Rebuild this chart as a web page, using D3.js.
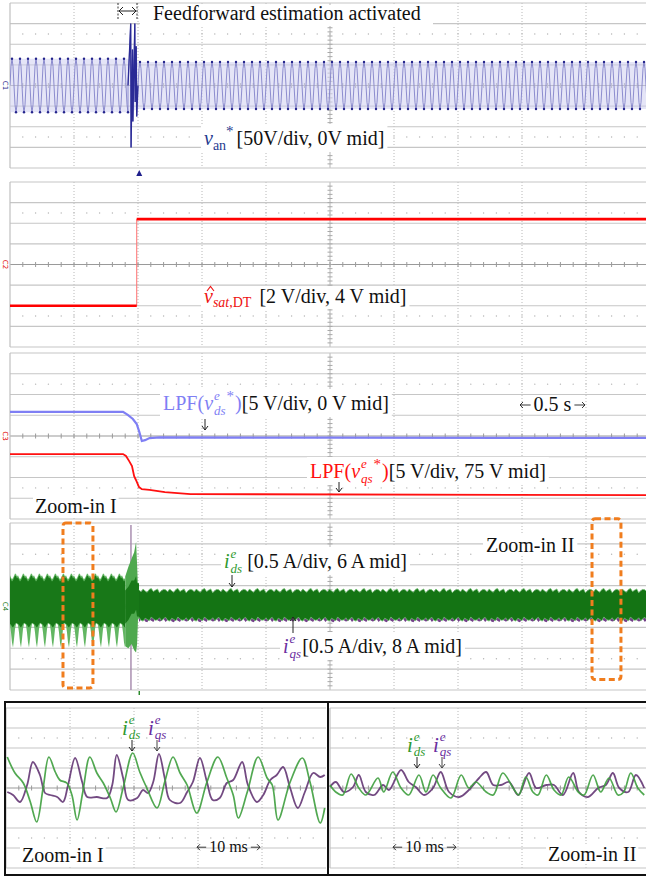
<!DOCTYPE html>
<html>
<head>
<meta charset="utf-8">
<script src="https://cdn.jsdelivr.net/npm/d3@7"></script>
<style>
  body { margin: 0; background: #fff; }
  text { font-family: "Liberation Serif", "Times New Roman", serif; }
</style>
</head>
<body>
<script>
// long captures: 0.5 s/div, 10 div
var sweep = [0, 5];
var stepTime = 0.99;

// v_an* : 50 V/div, 0 V mid
var vanEnvelope = [[0, 65], [0.92, 65], [1.0, 57], [5, 57]];
var vanFreq = 16;
var vanCycle = [0, 0.72, 1, 0.72, 0, -0.72, -1, -0.72];
var vanBurst = [[0.922, 0], [0.943, 150], [0.946, -150], [0.957, 87], [0.960, -87],
                [0.975, 150], [0.978, -40], [0.986, 95], [0.990, -75], [1.0, 0]];

// v_sat,DT : 2 V/div, 4 V mid
var vsatSteps = [[0, 0], [0.99, 0], [0.99, 8.4], [5, 8.4]];

// LPF(v_ds*) : 5 V/div, 0 V mid
var vdsLpf = [[0, 5.8], [0.883, 5.8], [0.92, 5.1], [0.96, 4.1], [0.99, 2.9], [1.01, 1.0],
              [1.03, -1.2], [1.055, -1.0], [1.09, -0.5], [1.17, -0.35], [2.5, -0.4], [5, -0.45]];
// LPF(v_qs*) : 5 V/div, 75 V mid
var vqsLpf = [[0, 70.65], [0.883, 70.65], [0.906, 70.2], [0.93, 69.0], [0.953, 67.75], [0.97, 65.3],
              [0.984, 64.4], [1.008, 62.7], [1.03, 62.2], [1.09, 62.0], [1.21, 61.5], [1.41, 61.0], [5, 60.75]];

// i_ds : 0.5 A/div, 6 A mid ; i_qs : 0.5 A/div, 8 A mid
var rippleFreq = 16;
var idsPreTop  = [6.70, 6.64, 6.60, 6.63, 6.68, 6.74, 6.73, 6.67];
var idsPreCore = [5.58, 5.56, 5.52, 5.50, 5.54, 5.58, 5.61, 5.60];
var idsPreLobe = [5.55, 5.38, 5.14, 5.02, 5.22, 5.46, 5.58, 5.60];
var idsBurst = [[0.90, 6.72, 5.05], [0.925, 6.95, 5.0], [0.95, 7.15, 5.1], [0.97, 7.3, 4.95],
                [0.985, 7.55, 4.9], [0.993, 7.0, 5.1], [1.0, 6.45, 5.7], [1.008, 6.38, 5.71]];
var idsPost = [6.37, 5.71];
var iqsPost = [8.35, 7.68];
var bandJitter = [0.03, -0.02, 0.05, 0.0, -0.03, 0.04, 0.06, -0.01, 0.02, 0.05, -0.04, 0.01, 0.04];
var iqsSpikeTime = 0.945;

// zoom-in windows: t0, t1 (s), top, bottom (A on i_ds scale)
var zoomWindows = [[0.414, 0.648, 8.0, 4.05], [4.547, 4.773, 8.1, 4.25]];

// zoomed traces: 10 ms/div, values in div
var zoom1Ids = [[0.2, 1.55], [1.4, 0.75], [2.7, 0.25], [3.8, -0.7], [4.8, -1.7], [5.8, 0], [6.7, 1.55],
  [7.7, 0.8], [8.4, 0.4], [9.5, 0.25], [10.3, -0.35], [11.1, -1.6], [12.0, -0.2], [13.1, 1.55],
  [14.2, 0.75], [15.2, 0.25], [16.3, -0.5], [17.2, -1.2], [18.3, 0], [19.8, 1.75], [20.9, 0.8],
  [22.0, 0], [23.6, -1.0], [24.8, 0.3], [26.1, 1.55], [27.2, 0.75], [28.3, 0.15], [29.8, -1.25],
  [31.4, 0.3], [33.1, 1.55], [34.5, 0.5], [35.5, -0.35], [36.3, -1.5], [37.7, -0.2], [39.4, 1.55],
  [40.8, 0.5], [41.6, 0.15], [42.5, -1.6], [44.4, 0.3], [46.3, 1.5], [47.5, 0.3], [49.1, -1.75], [49.8, -1.0]];
var zoom1Iqs = [[0.2, -0.2], [1.1, -0.35], [2.2, -0.7], [3.3, 0.15], [4.2, 1.3], [5.3, 0.65], [6.1, -0.25],
  [6.9, -0.35], [8.0, -0.45], [8.9, -0.7], [9.7, 0.15], [10.8, 1.5], [11.9, 0.3], [12.7, -0.45],
  [14.2, -0.45], [15.8, -0.5], [16.6, 0.15], [17.3, 1.65], [18.3, 0.5], [19.1, -0.6], [20.5, -0.5],
  [21.4, -0.1], [22.2, -0.25], [23.0, 0.3], [23.9, 1.7], [24.8, 0.5], [25.6, -0.6], [27.2, -0.75],
  [28.3, -0.2], [29.2, 0.3], [30.3, 1.5], [31.4, 0.3], [32.3, -0.6], [33.4, -0.5], [34.5, 0.25],
  [35.5, 0.4], [36.9, 1.3], [37.8, 0.15], [39.2, -0.7], [40.2, -0.35], [41.3, 0.4], [42.3, 0.65],
  [43.3, 1.05], [44.4, 0], [45.6, -1.0], [46.7, -0.2], [48.0, 0.75], [49.1, 0.55], [49.8, 0.65]];
var zoom2Ids = [[0, 0.15], [0.9, -0.2], [2.0, -0.35], [3.3, 0.7], [4.5, 0], [5.6, -0.35], [7.5, 0.5],
  [8.4, -0.2], [9.8, 0.8], [11.1, 0], [12.3, -0.35], [13.9, 0.65], [15.0, -0.2], [16.1, 0.65],
  [17.3, 0], [18.9, -0.5], [20.5, 0.65], [21.7, 0], [22.8, 0.3], [24.4, -0.2], [25.5, -0.35],
  [27.0, 0.75], [28.6, 0], [29.5, -0.35], [30.6, 0.55], [31.7, -0.2], [32.5, -0.35], [33.8, 0.65],
  [35.0, -0.1], [36.1, -0.35], [37.3, 0.55], [38.8, -0.2], [39.7, -0.35], [41.1, 0.65], [42.3, -0.2],
  [43.6, 0.5], [45.0, -0.35], [45.9, -0.2], [47.0, 0.75], [48.1, 0], [49.1, -0.35]];
var zoom2Iqs = [[0, 0.05], [0.9, 0.3], [2.2, -0.2], [3.6, 0.05], [4.5, 0.65], [5.6, -0.2], [6.9, -0.35],
  [8.3, 0.15], [9.2, -0.1], [11.1, 0.9], [12.3, 0.3], [13.4, 0.05], [14.7, -0.35], [16.1, 0],
  [17.3, 0.8], [18.6, -0.2], [20.2, -0.45], [21.7, -0.1], [23.3, 0.5], [24.4, 0.8], [25.5, 0.15],
  [26.7, 0.15], [28.0, 0.3], [29.4, -0.35], [31.1, 0.75], [32.2, 0], [33.8, 0.15], [35.0, 0.15],
  [36.4, -0.35], [38.0, 0.75], [38.9, -0.2], [40.3, -0.45], [41.9, 0], [43.1, 0.15], [44.2, 0.75],
  [45.2, 0], [46.6, -0.2], [47.8, 0.65], [49.1, 0]];

var width = 646, height = 879;
var svg = d3.select('body').append('svg')
    .attr('width', width)
    .attr('height', height);

var panelBox = [[3, 168], [182, 347], [353, 519], [523, 690]];
var x = d3.scaleLinear().domain(sweep).range([10, 650]);

function grid(g, left, top, w, h, cols, centerV) {
  var rowH = h / 8, colW = w / cols;
  g.selectAll(null).data(d3.range(1, cols)).enter().append('line')
      .attr('x1', function(c) { return left + c * colW; })
      .attr('x2', function(c) { return left + c * colW; })
      .attr('y1', top).attr('y2', top + h)
      .attr('stroke', '#b8b8b8')
      .attr('stroke-dasharray', function(c) { return (centerV && c * 2 === cols) ? null : '1,2'; });
  g.selectAll(null).data(d3.range(0, 9)).enter().append('line')
      .attr('x1', left).attr('x2', left + w)
      .attr('y1', function(r) { return top + r * rowH; })
      .attr('y2', function(r) { return top + r * rowH; })
      .attr('stroke', function(r) { return r === 4 ? '#9a9a9a' : '#c6c6c6'; })
      .attr('stroke-width', 1.2);
  g.append('line').attr('x1', left).attr('x2', left).attr('y1', top).attr('y2', top + h)
      .attr('stroke', '#c0c0c0').attr('stroke-width', 1.2);
  // dotted rows
  [1.5, 6.5].forEach(function(r) {
    g.selectAll(null).data(d3.range(1, cols * 5)).enter().append('circle')
        .attr('cx', function(i) { return left + i * colW / 5; })
        .attr('cy', top + r * rowH)
        .attr('r', 0.7).attr('fill', '#b5b5b5');
  });
  // ticks on centre lines
  g.selectAll(null).data(d3.range(1, cols * 5)).enter().append('line')
      .attr('x1', function(i) { return left + i * colW / 5; })
      .attr('x2', function(i) { return left + i * colW / 5; })
      .attr('y1', top + 4 * rowH - 2.5).attr('y2', top + 4 * rowH + 2.5)
      .attr('stroke', '#9a9a9a');
  if (centerV) {
    var cx = left + w / 2;
    g.selectAll(null).data(d3.range(1, 40)).enter().append('line')
        .attr('x1', cx - 2.5).attr('x2', cx + 2.5)
        .attr('y1', function(i) { return top + i * rowH / 5; })
        .attr('y2', function(i) { return top + i * rowH / 5; })
        .attr('stroke', '#a8a8a8');
  }
}

// one <text> built from tspans; sub/superscripts can stack
function rich(parent, x0, y0, parts, bg) {
  var g = parent.append('g');
  var txt = g.append('text');
  var cx = x0, baseX = x0;
  parts.forEach(function(p) {
    var px = p.stack ? baseX : cx + (p.dx || 0);
    var t = txt.append('tspan')
        .attr('x', px).attr('y', y0 + (p.dy || 0))
        .attr('font-size', p.size || 20)
        .attr('fill', p.color || '#111')
        .style('font-style', p.it ? 'italic' : 'normal')
        .text(p.t);
    var w = t.node().getComputedTextLength();
    if (p.stack) cx = Math.max(cx, px + w);
    else { baseX = px; cx = px + w; }
  });
  if (bg) {
    var b = g.node().getBBox();
    g.insert('rect', ':first-child')
        .attr('x', b.x - bg).attr('y', b.y + 1)
        .attr('width', b.width + 2 * bg).attr('height', b.height - 2)
        .attr('fill', '#fff');
  }
  return g;
}

function arrow(g, ax, y1, y2, color) {
  var d = y2 > y1 ? 1 : -1;
  g.append('path')
      .attr('d', 'M' + ax + ',' + y1 + 'V' + y2 + 'M' + (ax - 3) + ',' + (y2 - 4 * d) + 'L' + ax + ',' + y2 + 'L' + (ax + 3) + ',' + (y2 - 4 * d))
      .attr('fill', 'none').attr('stroke', color || '#222').attr('stroke-width', 1);
}

// "<- label ->" span marker
function span(g, x1, x2, y, label, size) {
  var t = g.append('text').attr('x', (x1 + x2) / 2).attr('y', y)
      .attr('text-anchor', 'middle').attr('font-size', size).attr('fill', '#111').text(label);
  var w = t.node().getComputedTextLength();
  var m = (x1 + x2) / 2, ay = y - size * 0.3;
  g.append('path')
      .attr('d', 'M' + x1 + ',' + ay + 'H' + (m - w / 2 - 3) +
                 'M' + (x1 + 3) + ',' + (ay - 3) + 'L' + x1 + ',' + ay + 'L' + (x1 + 3) + ',' + (ay + 3) +
                 'M' + (m + w / 2 + 3) + ',' + ay + 'H' + x2 +
                 'M' + (x2 - 3) + ',' + (ay - 3) + 'L' + x2 + ',' + ay + 'L' + (x2 - 3) + ',' + (ay + 3))
      .attr('fill', 'none').attr('stroke', '#222').attr('stroke-width', 0.9);
}

function chLabel(g, txt, cy, color) {
  g.append('text').attr('transform', 'translate(3,' + cy + ') rotate(90)')
      .attr('text-anchor', 'middle').attr('font-size', 7)
      .style('font-family', 'DejaVu Sans').attr('fill', color).text(txt);
}

// ---------- upper panels ----------
var clips = panelBox.map(function(p, i) {
  svg.append('clipPath').attr('id', 'clip' + i).append('rect')
      .attr('x', 10).attr('y', p[0] - 4).attr('width', 636).attr('height', p[1] - p[0] + 8);
  return 'url(#clip' + i + ')';
});

panelBox.forEach(function(p) {
  grid(svg.append('g'), 10, p[0], 640, p[1] - p[0], 10, true);
});

// panel 1: v_an*
var yVan = d3.scaleLinear().domain([-200, 200]).range([panelBox[0][1], panelBox[0][0]]);
var vanEnv = d3.scaleLinear().domain(vanEnvelope.map(function(d) { return d[0]; }))
    .range(vanEnvelope.map(function(d) { return d[1]; }));
var vanPts = [], vanPeaks = [];
for (var k = 0; k < sweep[1] * vanFreq; k++) {
  vanCycle.forEach(function(c, j) {
    var t = (k + j / vanCycle.length) / vanFreq;
    if (t >= vanBurst[0][0] && t <= vanBurst[vanBurst.length - 1][0]) return;
    vanPts.push([t, c * vanEnv(t)]);
    if (Math.abs(c) === 1) vanPeaks.push([t, c * vanEnv(t)]);
  });
}
var vanAll = vanPts.concat(vanBurst).sort(function(a, b) { return a[0] - b[0]; });
var g1 = svg.append('g').attr('clip-path', clips[0]);
g1.append('path')
    .datum(vanPts)
    .attr('d', d3.area().x(function(d) { return x(d[0]); })
        .y0(function(d) { return yVan(-vanEnv(d[0])); }).y1(function(d) { return yVan(vanEnv(d[0])); }))
    .attr('fill', '#d3d3f1').attr('opacity', 0.6);
g1.append('path').datum(vanAll)
    .attr('d', d3.line().x(function(d) { return x(d[0]); }).y(function(d) { return yVan(d[1]); }))
    .attr('fill', 'none').attr('stroke', '#7c7cc6').attr('stroke-width', 0.85);
g1.append('path').datum(vanBurst)
    .attr('d', d3.line().x(function(d) { return x(d[0]); }).y(function(d) { return yVan(d[1]); }))
    .attr('fill', 'none').attr('stroke', '#2a2a96').attr('stroke-width', 1.3);
g1.selectAll(null).data(vanPeaks).enter().append('circle')
    .attr('cx', function(d) { return x(d[0]); })
    .attr('cy', function(d) { return yVan(d[1]); })
    .attr('r', 1.2).attr('fill', '#24248c');
svg.append('path')
    .attr('d', 'M' + x(stepTime + 0.02) + ',170l-3,6h6z').attr('fill', '#1f1f8c');
chLabel(svg, 'C1', yVan(0), '#1f1f8c');

// panel 2: v_sat,DT
var yVsat = d3.scaleLinear().domain([-4, 12]).range([panelBox[1][1], panelBox[1][0]]);
var g2 = svg.append('g').attr('clip-path', clips[1]);
var lineVsat = d3.line().x(function(d) { return x(d[0]); }).y(function(d) { return yVsat(d[1]); });
g2.append('path').datum(vsatSteps).attr('d', lineVsat)
    .attr('fill', 'none').attr('stroke', '#ff7070').attr('stroke-width', 1);
[vsatSteps.slice(0, 2), vsatSteps.slice(2, 4)].forEach(function(seg) {
  g2.append('path').datum(seg).attr('d', lineVsat)
      .attr('fill', 'none').attr('stroke', '#ff0000').attr('stroke-width', 2.6);
});
chLabel(svg, 'C2', yVsat(4), '#e00000');

// panel 3: LPF outputs
var yVds = d3.scaleLinear().domain([-20, 20]).range([panelBox[2][1], panelBox[2][0]]);
var yVqs = d3.scaleLinear().domain([55, 95]).range([panelBox[2][1], panelBox[2][0]]);
var g3 = svg.append('g').attr('clip-path', clips[2]);
g3.append('path').datum(vdsLpf)
    .attr('d', d3.line().x(function(d) { return x(d[0]); }).y(function(d) { return yVds(d[1]); }))
    .attr('fill', 'none').attr('stroke', '#7f7ff4').attr('stroke-width', 2.2);
g3.append('path').datum(vqsLpf)
    .attr('d', d3.line().x(function(d) { return x(d[0]); }).y(function(d) { return yVqs(d[1]); }))
    .attr('fill', 'none').attr('stroke', '#ff1010').attr('stroke-width', 1.8);
chLabel(svg, 'C3', yVds(0), '#e00000');

// panel 4: i_ds / i_qs
var yIds = d3.scaleLinear().domain([4, 8]).range([panelBox[3][1], panelBox[3][0]]);
var yIqs = d3.scaleLinear().domain([6, 10]).range([panelBox[3][1], panelBox[3][0]]);
var g4 = svg.append('g').attr('clip-path', clips[3]);

var idsPre = [];
for (var m = 0; m < idsBurst[0][0] * rippleFreq; m++) {
  idsPreTop.forEach(function(v, j) {
    var t = (m + j / idsPreTop.length) / rippleFreq;
    if (t <= idsBurst[0][0]) idsPre.push([t, v, idsPreCore[j], idsPreLobe[j]]);
  });
}
var postPts = [];
var tPost = idsBurst[idsBurst.length - 1][0];
for (var n = 0; tPost + n * 0.016 <= sweep[1] + 0.02; n++) {
  var L = bandJitter.length;
  postPts.push([tPost + n * 0.016,
    idsPost[0] + bandJitter[n % L], idsPost[1] - bandJitter[(n + 4) % L],
    iqsPost[0] + bandJitter[(n + 7) % L], iqsPost[1] - bandJitter[(n + 2) % L]]);
}

g4.append('line')
    .attr('x1', x(iqsSpikeTime)).attr('x2', x(iqsSpikeTime))
    .attr('y1', yIqs(9.95)).attr('y2', yIqs(6.0))
    .attr('stroke', '#a487ab').attr('stroke-width', 1.4);

// i_qs band behind
g4.append('path').datum(postPts)
    .attr('d', d3.area().x(function(d) { return x(d[0]); })
        .y0(function(d) { return yIqs(d[4]); }).y1(function(d) { return yIqs(d[3]); }))
    .attr('fill', '#74408a');
// i_ds before the step
g4.append('path').datum(idsPre)
    .attr('d', d3.area().x(function(d) { return x(d[0]); })
        .y0(function(d) { return yIds(d[3]); }).y1(function(d) { return yIds(d[1] + 0.05); }))
    .attr('fill', '#62b662');
g4.append('path').datum(idsPre)
    .attr('d', d3.area().x(function(d) { return x(d[0]); })
        .y0(function(d) { return yIds(d[2]); }).y1(function(d) { return yIds(d[1]); }))
    .attr('fill', '#187818');
g4.append('path').datum(idsBurst)
    .attr('d', d3.area().x(function(d) { return x(d[0]); })
        .y0(function(d) { return yIds(d[2]); }).y1(function(d) { return yIds(d[1]); }))
    .attr('fill', '#4fa94f');
g4.append('path').datum(idsBurst)
    .attr('d', d3.area().x(function(d) { return x(d[0]); })
        .y0(function(d) { return yIds((d[1] + d[2]) / 2 - 0.3); }).y1(function(d) { return yIds((d[1] + d[2]) / 2 + 0.5); }))
    .attr('fill', '#187818');
// i_ds after the step
g4.append('path').datum(postPts)
    .attr('d', d3.area().x(function(d) { return x(d[0]); })
        .y0(function(d) { return yIds(d[2]); }).y1(function(d) { return yIds(d[1]); }))
    .attr('fill', '#147414');
[1, 2].forEach(function(col) {
  g4.append('path').datum(postPts)
      .attr('d', d3.line().x(function(d) { return x(d[0]); }).y(function(d) { return yIds(d[col]); }))
      .attr('fill', 'none').attr('stroke', '#72c072').attr('stroke-width', 0.8);
});
chLabel(svg, 'C4', yIds(6), '#1a7a1a');

// zoom-in windows
zoomWindows.forEach(function(z) {
  svg.append('rect')
      .attr('x', x(z[0])).attr('y', yIds(z[2]))
      .attr('width', x(z[1]) - x(z[0])).attr('height', yIds(z[3]) - yIds(z[2]))
      .attr('rx', 3)
      .attr('fill', 'none').attr('stroke', '#f07d1e').attr('stroke-width', 3)
      .attr('stroke-dasharray', '6,3.5');
});

svg.append('line').attr('x1', x(stepTime + 0.02)).attr('x2', x(stepTime + 0.02))
    .attr('y1', 691).attr('y2', 695).attr('stroke', '#2a8a2a').attr('stroke-width', 1.5);

// ---------- annotations ----------
svg.append('rect').attr('x', 140).attr('y', 5).attr('width', 293).attr('height', 21).attr('fill', '#fff');
svg.append('text').attr('x', 153).attr('y', 20).attr('font-size', 20).attr('fill', '#111')
    .text('Feedforward estimation activated');
[118, 137].forEach(function(bx) {
  svg.append('line').attr('x1', bx).attr('x2', bx).attr('y1', 3).attr('y2', 19)
      .attr('stroke', '#333').attr('stroke-dasharray', '2,1.5');
});
svg.append('path')
    .attr('d', 'M119,11H136M123,7L119,11L123,15M132,7L136,11L132,15')
    .attr('fill', 'none').attr('stroke', '#222');

rich(svg, 204, 145, [
  {t: 'v', it: true, color: '#1f3b8f'},
  {t: 'an', size: 14, dy: 5, color: '#1f3b8f'},
  {t: '*', size: 15, dy: -9, color: '#1f3b8f'},
  {t: '[50V/div, 0V mid]', dx: 3}
], 3);

rich(svg, 204, 303, [
  {t: 'v', it: true, color: '#ee1111'},
  {t: 'sat', it: true, size: 14, dy: 4, color: '#ee1111'},
  {t: ',DT', size: 14, dy: 4, color: '#ee1111'},
  {t: '[2 V/div, 4 V mid]', dx: 8}
], 3);
// hat over v
svg.append('path').attr('d', 'M207,291L210.5,286.5L214,291')
    .attr('fill', 'none').attr('stroke', '#ee1111').attr('stroke-width', 1.1);

rich(svg, 163, 410, [
  {t: 'LPF(', color: '#7f7ff4'},
  {t: 'v', it: true, color: '#7f7ff4'},
  {t: 'e', it: true, size: 13, dy: -10, dx: 1, color: '#7f7ff4'},
  {t: 'ds', it: true, size: 13, dy: 5, stack: true, color: '#7f7ff4'},
  {t: '*', size: 15, dy: -9, dx: 1, color: '#7f7ff4'},
  {t: ')', color: '#7f7ff4', dx: 1},
  {t: '[5 V/div, 0 V mid]'}
], 3);
arrow(svg, 205, 419, 430);

span(svg, 520, 585, 411, '0.5 s', 20);

rich(svg, 310, 478, [
  {t: 'LPF(', color: '#ff1010'},
  {t: 'v', it: true, color: '#ff1010'},
  {t: 'e', it: true, size: 13, dy: -10, dx: 1, color: '#ff1010'},
  {t: 'qs', it: true, size: 13, dy: 5, stack: true, color: '#ff1010'},
  {t: '*', size: 15, dy: -9, dx: 1, color: '#ff1010'},
  {t: ')', color: '#ff1010', dx: 1},
  {t: '[5 V/div, 75 V mid]'}
], 3);
arrow(svg, 339, 482, 492);

rich(svg, 35, 513, [{t: 'Zoom-in I'}], 2);

rich(svg, 224, 568, [
  {t: 'i', it: true, color: '#2f9a2f'},
  {t: 'e', it: true, size: 13, dy: -10, dx: 1, color: '#2f9a2f'},
  {t: 'ds', it: true, size: 13, dy: 5, stack: true, color: '#2f9a2f'},
  {t: '[0.5 A/div, 6 A mid]', dx: 5}
], 3);
arrow(svg, 232, 575, 587);

rich(svg, 486, 552, [{t: 'Zoom-in II'}], 3);

rich(svg, 283, 653, [
  {t: 'i', it: true, color: '#6a2ea0'},
  {t: 'e', it: true, size: 13, dy: -10, dx: 1, color: '#6a2ea0'},
  {t: 'qs', it: true, size: 13, dy: 5, stack: true, color: '#6a2ea0'},
  {t: '[0.5 A/div, 8 A mid]', dx: 1}
], 3);
arrow(svg, 293, 633, 617);

// ---------- zoomed views ----------
var yZ = d3.scaleLinear().domain([-4, 4]).range([868, 708]);
var zoomViews = [
  {x: d3.scaleLinear().domain([0, 50]).range([6, 326]), ids: zoom1Ids, iqs: zoom1Iqs, clip: [5, 323]},
  {x: d3.scaleLinear().domain([0, 50]).range([330, 650]), ids: zoom2Ids, iqs: zoom2Iqs, clip: [329, 318]}
];
zoomViews.forEach(function(v, i) {
  var r = v.x.range();
  grid(svg.append('g'), r[0], 708, r[1] - r[0], 160, 5, false);
  svg.append('clipPath').attr('id', 'zclip' + i).append('rect')
      .attr('x', v.clip[0]).attr('y', 703).attr('width', v.clip[1]).attr('height', 171);
  var gz = svg.append('g').attr('clip-path', 'url(#zclip' + i + ')');
  var ln = d3.line().curve(d3.curveCatmullRom)
      .x(function(d) { return v.x(d[0]); }).y(function(d) { return yZ(d[1]); });
  gz.append('path').datum(v.iqs).attr('d', ln)
      .attr('fill', 'none').attr('stroke', '#5a2a6c').attr('stroke-width', 1.8).attr('opacity', 0.85);
  gz.append('path').datum(v.ids).attr('d', ln)
      .attr('fill', 'none').attr('stroke', '#3e9f3e').attr('stroke-width', 1.7).attr('opacity', 0.9);
});
svg.append('path').attr('d', 'M650,702H5V875H650M328,702V875')
    .attr('fill', 'none').attr('stroke', '#111').attr('stroke-width', 2);

function zLabels(gx, gy, ay) {
  rich(svg, gx, gy, [
    {t: 'i', it: true, size: 21, color: '#2f9a2f'},
    {t: 'e', it: true, size: 13, dy: -11, dx: 1, color: '#2f9a2f'},
    {t: 'ds', it: true, size: 13, dy: 4, stack: true, color: '#2f9a2f'}
  ], 0);
  rich(svg, gx + 26, gy, [
    {t: 'i', it: true, size: 21, color: '#6a2ea0'},
    {t: 'e', it: true, size: 13, dy: -11, dx: 1, color: '#6a2ea0'},
    {t: 'qs', it: true, size: 13, dy: 4, stack: true, color: '#6a2ea0'}
  ], 0);
  arrow(svg, gx + 10, ay, ay + 11);
  arrow(svg, gx + 35, ay, ay + 11, '#444');
}
zLabels(122, 735, 740);
zLabels(407, 752, 757);

rich(svg, 22, 862, [{t: 'Zoom-in I'}], 2);
rich(svg, 548, 861, [{t: 'Zoom-in II'}], 2);
span(svg, 197, 260, 852, '10 ms', 16);
span(svg, 393, 456, 852, '10 ms', 16);
</script>
</body>
</html>
